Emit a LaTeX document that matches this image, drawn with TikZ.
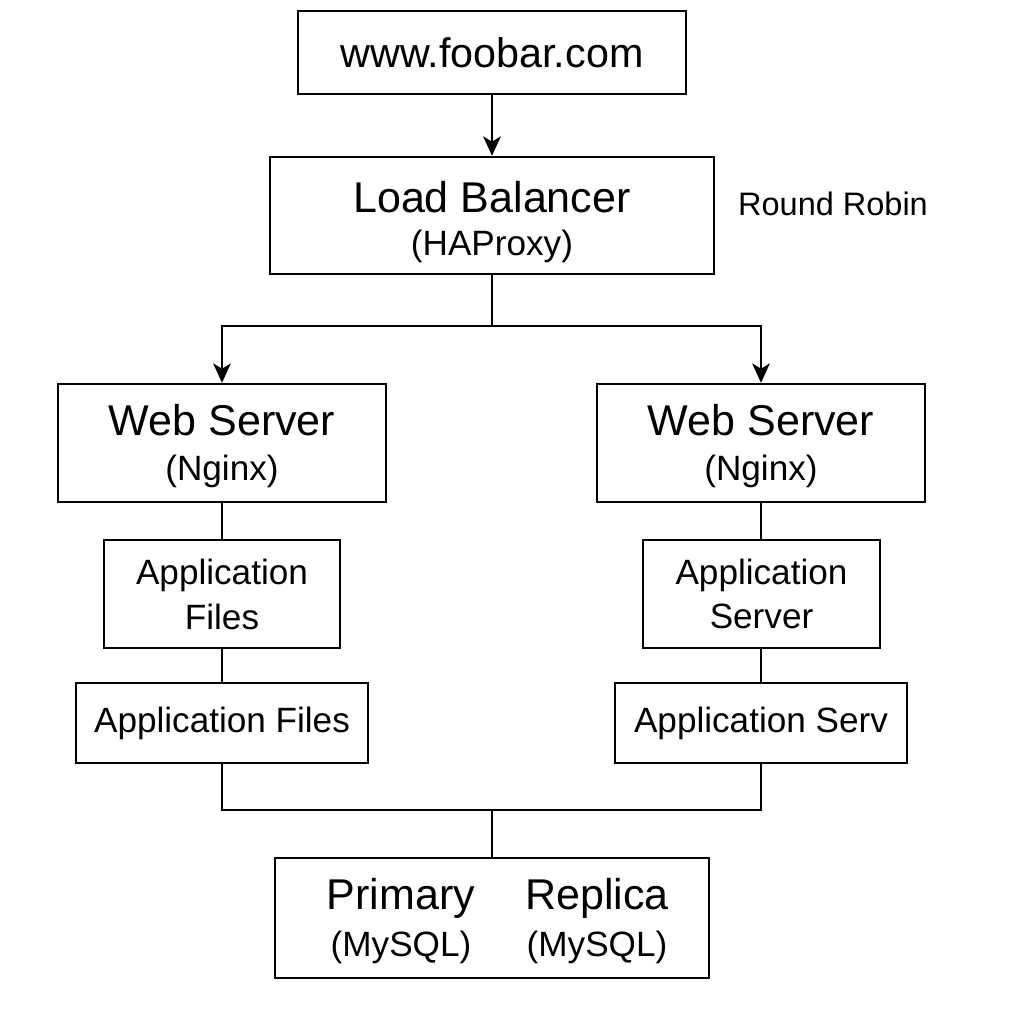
\documentclass[tikz,border=0pt]{standalone}
\usepackage{fontspec}
\setmainfont{Liberation Sans}
\usetikzlibrary{arrows.meta,positioning}

\newcommand{\bigtext}{\fontsize{24.5}{27}\selectfont}
\newcommand{\smalltext}{\fontsize{20}{27}\selectfont}

\begin{document}
\begin{tikzpicture}[x=0.02cm,y=-0.02cm]
      \tikzstyle{box}=[draw=black, line width=1.4pt, inner sep=0pt, align=center]
      \tikzstyle{link}=[line width=1.4pt]
      \tikzstyle{arrow}=[link, -{Stealth[length=11pt,width=10pt,inset=3pt]}]
      \tikzstyle{label_text}=[draw=none, fill=none, align=center]

      \useasboundingbox (0,0) rectangle (1024,1024);

      % entry and load balancer
      \node [box, minimum width=7.76cm, minimum height=1.66cm] (site) at (492,52.5) {\fontsize{23.5}{27}\selectfont www.foobar.com};
      \node [box, minimum width=8.88cm, minimum height=2.34cm] (lb) at (492,215.5) {\bigtext\rule{0pt}{25pt}Load Balancer\\[9pt]\smalltext (HAProxy)};
      \node [label_text] (algo) at (833,204) {\fontsize{18.5}{22}\selectfont Round Robin};

      % left server
      \node [box, minimum width=6.56cm, minimum height=2.36cm] (web1) at (222,443) {\bigtext\rule{0pt}{21.5pt}Web Server\\[10pt]\smalltext (Nginx)};
      \node [box, minimum width=4.72cm, minimum height=2.16cm] (app1) at (222,594) {\smalltext Application\\[6pt]\smalltext Files};
      \node [box, minimum width=5.84cm, minimum height=1.6cm] (files1) at (222,723) {\smalltext Application Files};

      % right server
      \node [box, minimum width=6.56cm, minimum height=2.36cm] (web2) at (761,443) {\bigtext\rule{0pt}{21.5pt}Web Server\\[10pt]\smalltext (Nginx)};
      \node [box, minimum width=4.74cm, minimum height=2.16cm] (app2) at (761.5,594) {\smalltext Application\\[6pt]\smalltext Server};
      \node [box, minimum width=5.84cm, minimum height=1.6cm] (files2) at (761,723) {\smalltext Application Serv};

      % database
      \node [box, minimum width=8.68cm, minimum height=2.4cm] (db) at (492,918) {};
      \node [label_text] (primary) at (401,921) {\bigtext Primary\\[6pt]\smalltext (MySQL)};
      \node [label_text] (replica) at (597,921) {\bigtext Replica\\[6pt]\smalltext (MySQL)};

      \coordinate (split) at (492,326);
      \coordinate (merge) at (492,810);

      \draw [arrow] (site.south) -- (lb.north);
      \draw [link] (lb.south) -- (split);
      \draw [arrow] (split) -| (web1.north);
      \draw [arrow] (split) -| (web2.north);

      \draw [link] (web1.south) -- (app1.north);
      \draw [link] (app1.south) -- (files1.north);
      \draw [link] (web2.south) -- (app2.north -| web2.south);
      \draw [link] (app2.south -| web2.south) -- (files2.north);

      \draw [link] (files1.south) |- (merge);
      \draw [link] (files2.south) |- (merge);
      \draw [link] (merge) -- (db.north);

    \end{tikzpicture}
\end{document}
